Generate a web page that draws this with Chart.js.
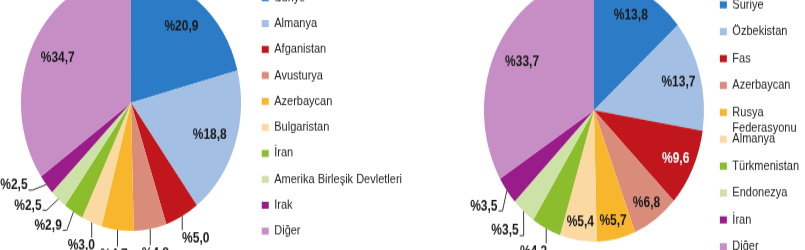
<!DOCTYPE html>
<html>
<head>
<meta charset="utf-8">
<script src="https://cdn.jsdelivr.net/npm/chart.js@4.4.1/dist/chart.umd.min.js"></script>
<style>
  html, body { margin: 0; padding: 0; background: #fff; }
  body { width: 805px; height: 250px; overflow: hidden; position: relative; }
  /* the source picture is stretched vertically, so the charts are too */
  .wrap { position: absolute; transform-origin: 0 0; }
  #w1 { left: 0; top: -71.75px; transform: scaleY(1.165); }
  #w2 { left: 420px; top: -69.25px; transform: scaleY(1.195); }
</style>
</head>
<body>
<div class="wrap" id="w1"><canvas id="c1" width="412" height="300"></canvas></div>
<div class="wrap" id="w2"><canvas id="c2" width="389" height="300"></canvas></div>
<script>
const leftLabels = ['Suriye', 'Almanya', 'Afganistan', 'Avusturya', 'Azerbaycan', 'Bulgaristan', 'İran', 'Amerika Birleşik Devletleri', 'Irak', 'Diğer'];
const leftValues = [20.9, 18.8, 5.0, 4.8, 4.7, 3.0, 2.9, 2.5, 2.5, 34.7];

const rightLabels = ['Suriye', 'Özbekistan', 'Fas', 'Azerbaycan', ['Rusya', 'Federasyonu'], 'Almanya', 'Türkmenistan', 'Endonezya', 'İran', 'Diğer'];
const rightValues = [13.8, 13.7, 9.6, 6.8, 5.7, 5.4, 4.3, 3.5, 3.5, 33.7];

const sliceColors = ['#2b7bc6', '#a3bfe3', '#c0161c', '#da8c7b', '#f8b62c', '#fbd9a3', '#8bbd2c', '#cde2a6', '#9a1c8a', '#c78ec5'];

Chart.defaults.font.family = '"Liberation Sans", Arial, sans-serif';

function luminance(hex) {
    const n = parseInt(hex.slice(1), 16);
    return 0.299 * (n >> 16) + 0.587 * ((n >> 8) & 255) + 0.114 * (n & 255);
}

function fmt(v) {
    return '%' + v.toFixed(1).replace('.', ',');
}

// box of an outside label, pushed out from the pie along angle a
function labelBox(o, a, h) {
    const r = o.p.outerRadius * 1.14;
    const cx = o.p.x + Math.cos(a) * r + Math.cos(a) * o.w / 2;
    const cy = o.p.y + Math.sin(a) * r + Math.sin(a) * h / 2;
    return { cx: cx, cy: cy, l: cx - o.w / 2, r: cx + o.w / 2, t: cy - h / 2, b: cy + h / 2 };
}

function overlaps(a, b, gap) {
    return a.l < b.r + gap && b.l < a.r + gap && a.t < b.b + gap && b.t < a.b + gap;
}

const sliceLabels = {
    id: 'sliceLabels',
    afterDatasetsDraw: function(chart) {
        const ctx = chart.ctx;
        const ds = chart.data.datasets[0];
        const outside = [];
        ctx.save();
        ctx.font = 'bold 12px "Liberation Sans", Arial, sans-serif';
        ctx.textAlign = 'center';
        ctx.textBaseline = 'middle';
        chart.getDatasetMeta(0).data.forEach(function(arc, i) {
            const p = arc.getProps(['x', 'y', 'startAngle', 'endAngle', 'outerRadius'], true);
            const text = fmt(ds.data[i]);
            const w = ctx.measureText(text).width;
            const span = p.endAngle - p.startAngle;
            const mid = (p.startAngle + p.endAngle) / 2;
            const R = p.outerRadius;
            if (2 * 0.88 * R * Math.sin(span / 2) > w + 4) {
                const f = 0.9 - 0.15 * Math.min(1, span / (0.4 * Math.PI));
                ctx.fillStyle = luminance(ds.backgroundColor[i]) < 90 ? '#ffffff' : '#1a1a1a';
                ctx.fillText(text, p.x + Math.cos(mid) * R * f, p.y + Math.sin(mid) * R * f);
            } else {
                outside.push({ text: text, w: w, mid: mid, p: p });
            }
        });

        // small slices: label outside, walk round the pie until clear of the previous one
        const h = 12;
        let prev = null;
        outside.forEach(function(o) {
            let a = o.mid;
            let box = labelBox(o, a, h);
            for (let k = 0; k < 120 && prev && overlaps(box, prev, 5); k++) {
                a += Math.PI / 360;
                box = labelBox(o, a, h);
            }
            o.box = box;
            prev = box;
        });

        ctx.strokeStyle = '#3a3a3a';
        ctx.lineWidth = 1;
        outside.forEach(function(o) {
            const b = o.box;
            const ax = o.p.x + Math.cos(o.mid) * o.p.outerRadius;
            const ay = o.p.y + Math.sin(o.mid) * o.p.outerRadius;
            ctx.beginPath();
            if (ax >= b.l && ax <= b.r) {
                if (b.t - ay > 3) {
                    ctx.moveTo(ax, ay);
                    ctx.lineTo(ax, b.t - 1);
                }
            } else if (ax > b.r) {
                ctx.moveTo(b.r + 1, b.b - 2);
                ctx.lineTo(b.r + 5, b.b - 2);
                ctx.lineTo(ax, ay);
            } else {
                ctx.moveTo(b.l - 1, b.b - 2);
                ctx.lineTo(b.l - 5, b.b - 2);
                ctx.lineTo(ax, ay);
            }
            ctx.stroke();
            ctx.fillStyle = '#1a1a1a';
            ctx.fillText(o.text, b.cx, b.cy);
        });
        ctx.restore();
    }
};

// legend shows the first line of a label, the rest is written underneath
const legendExtraLines = {
    id: 'legendExtraLines',
    afterDraw: function(chart) {
        const legend = chart.legend;
        const opts = legend.options.labels;
        const ctx = chart.ctx;
        ctx.save();
        ctx.font = '11px "Liberation Sans", Arial, sans-serif';
        ctx.fillStyle = opts.color;
        ctx.textAlign = 'left';
        ctx.textBaseline = 'middle';
        legend.legendHitBoxes.forEach(function(hb, i) {
            const lab = chart.data.labels[i];
            if (!Array.isArray(lab)) return;
            lab.slice(1).forEach(function(line, k) {
                ctx.fillText(line, hb.left + opts.boxWidth + 5.5, hb.top + 5.5 + 13.2 * (k + 1));
            });
        });
        ctx.restore();
    }
};

function makePie(id, labels, values, padLeft, itemPad, titlePad) {
    return new Chart(document.getElementById(id), {
        type: 'pie',
        data: {
            labels: labels,
            datasets: [{
                data: values,
                backgroundColor: sliceColors,
                borderWidth: 0,
                radius: 110,
            }]
        },
        options: {
            responsive: false,
            animation: false,
            layout: { padding: { left: padLeft } },
            plugins: {
                tooltip: { enabled: false },
                legend: {
                    position: 'right',
                    title: {
                        display: true,
                        text: '',
                        font: { size: 10 },
                        padding: { top: titlePad, bottom: titlePad }
                    },
                    labels: {
                        boxWidth: 7,
                        boxHeight: 6,
                        padding: itemPad,
                        color: '#262626',
                        font: { size: 11 },
                        generateLabels: function(chart) {
                            return Chart.overrides.doughnut.plugins.legend.labels.generateLabels(chart).map(function(item) {
                                if (Array.isArray(item.text)) item.text = item.text[0];
                                return item;
                            });
                        }
                    }
                }
            }
        },
        plugins: [sliceLabels, legendExtraLines]
    });
}

makePie('c1', leftLabels, leftValues, 11.5, 11.3, 4);
makePie('c2', rightLabels, rightValues, 59.6, 11.5, 7);
</script>
</body>
</html>
